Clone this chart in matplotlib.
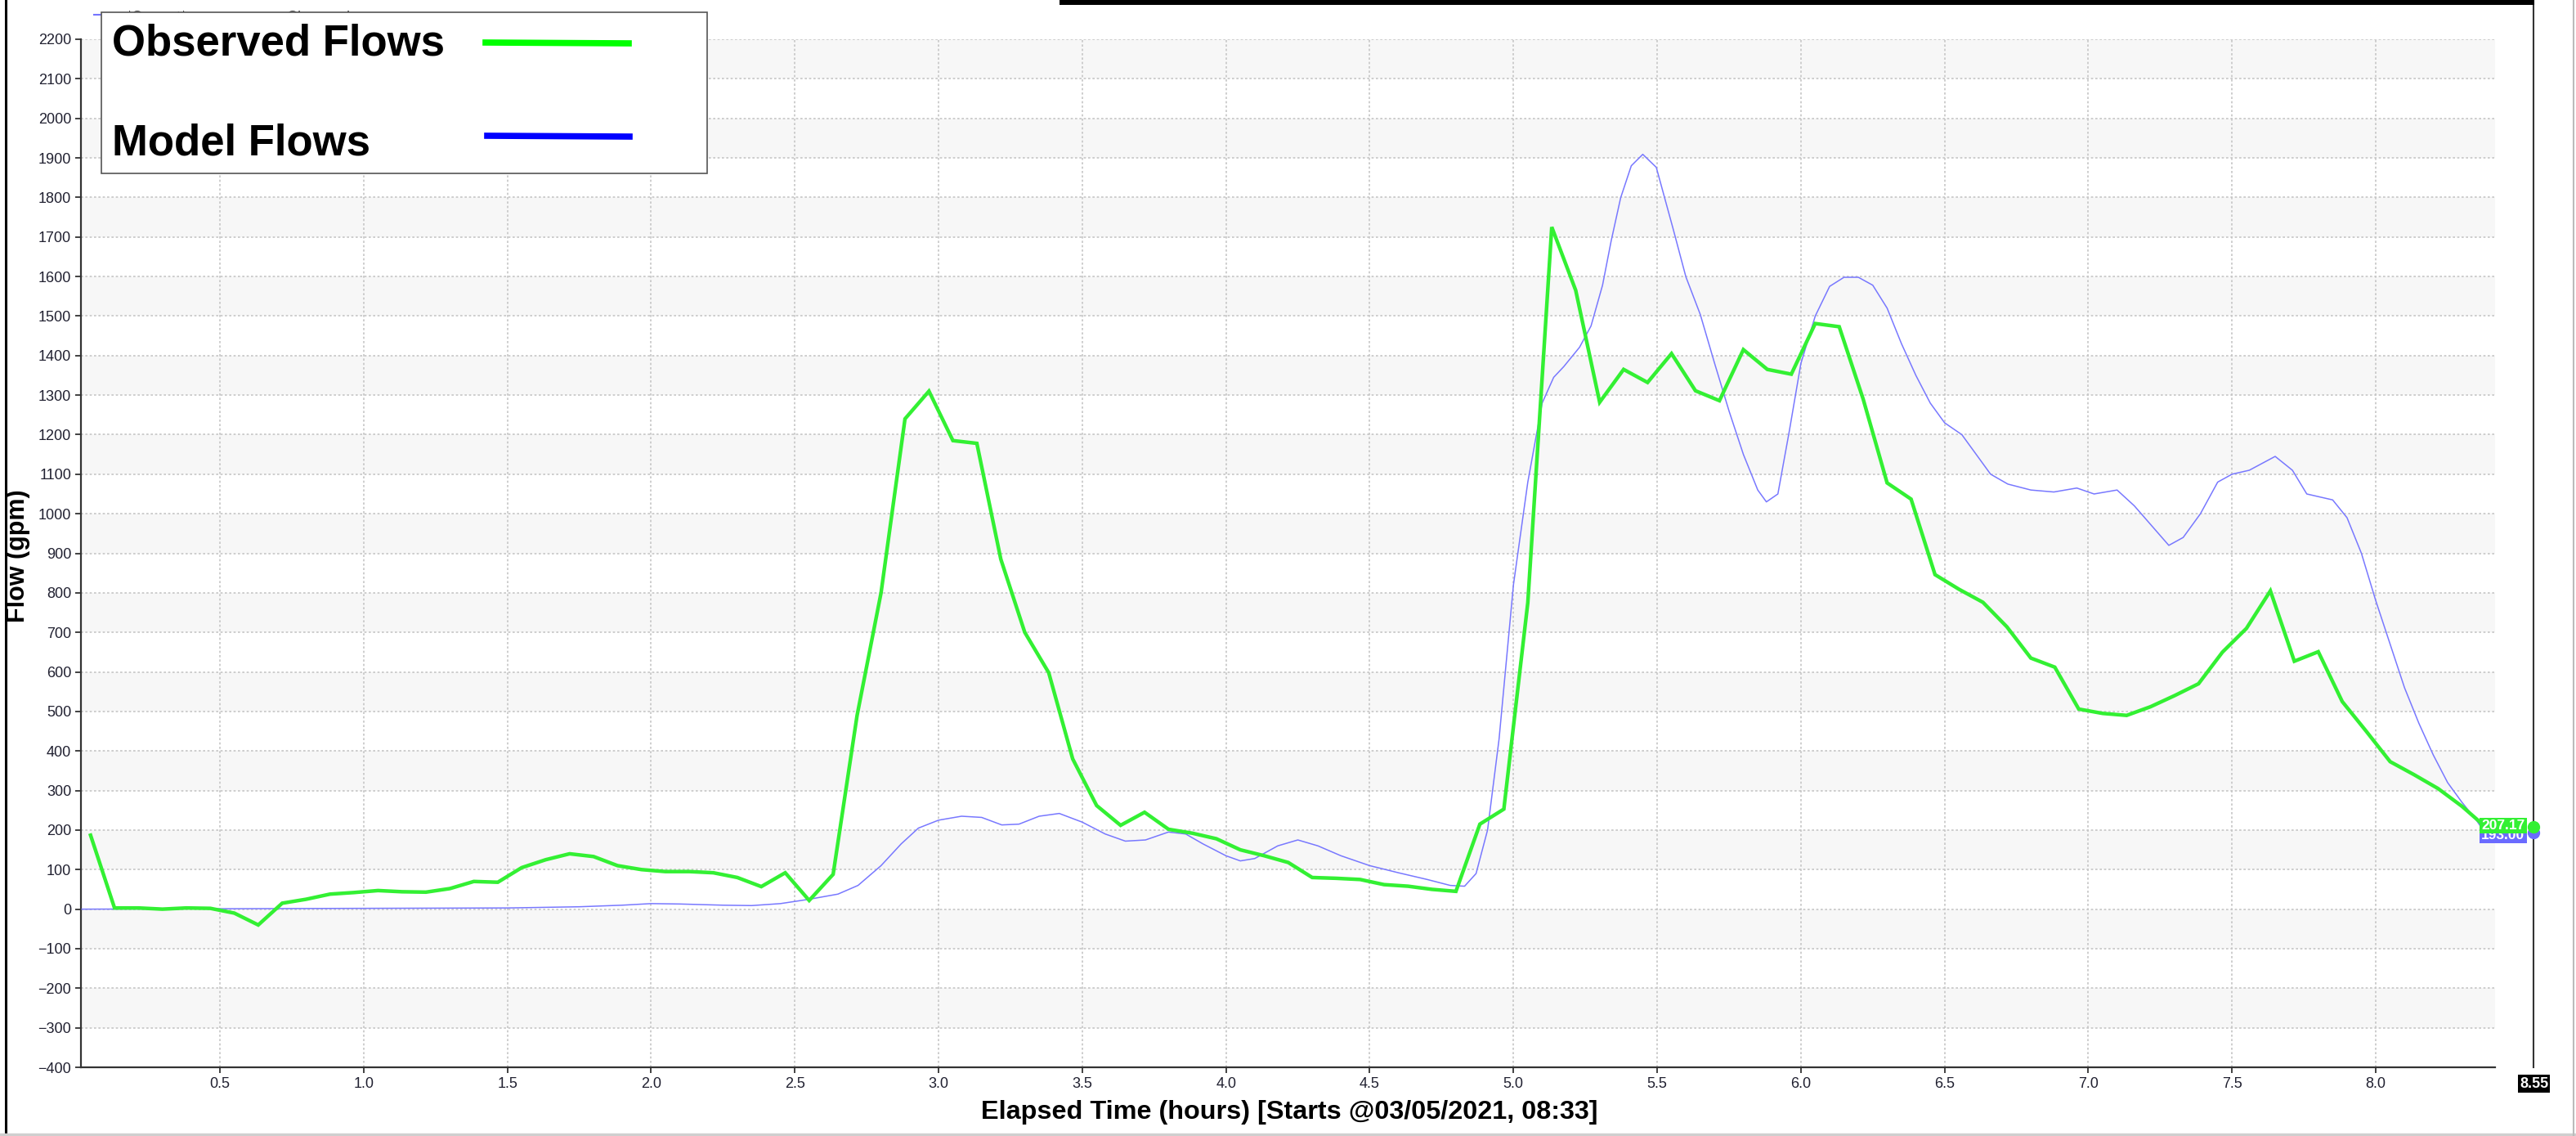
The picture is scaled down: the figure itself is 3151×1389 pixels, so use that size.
import numpy as np
import matplotlib.pyplot as plt
from matplotlib.patches import Rectangle
from matplotlib.lines import Line2D

# observed flows, one reading every 5 minutes
obs_time = 0.05 + np.arange(101) / 12
obs_flow = [187, 3, 3, 0, 3, 2, -10, -40, 15, 25,
            38, 42, 47, 44, 43, 52, 70, 68, 105, 125,
            140, 133, 110, 100, 95, 95, 92, 80, 57, 92,
            22, 88, 490, 800, 1240, 1310, 1185, 1178, 885, 700,
            598, 380, 262, 212, 245, 202, 192, 178, 150, 135,
            118, 80, 78, 75, 62, 58, 50, 45, 215, 253,
            775, 1725, 1565, 1282, 1365, 1332, 1405, 1311, 1286, 1415,
            1365, 1353, 1481, 1473, 1290, 1078, 1037, 846, 809, 776,
            714, 635, 612, 506, 495, 490, 512, 540, 570, 650,
            710, 805, 627, 651, 525, 450, 373, 340, 305, 260,
            207.17]

# model flows
model_time = [0.02, 0.5, 1.0, 1.5, 1.75, 1.9, 2.0, 2.1, 2.25, 2.35,
              2.45, 2.55, 2.65, 2.72, 2.8, 2.87, 2.93, 3.0, 3.08, 3.15,
              3.22, 3.28, 3.35, 3.42, 3.5, 3.58, 3.65, 3.72, 3.8, 3.86,
              3.92, 4.0, 4.05, 4.1, 4.18, 4.25, 4.32, 4.4, 4.5, 4.6,
              4.7, 4.78, 4.83, 4.87, 4.91, 4.95, 5.0, 5.05, 5.1, 5.14,
              5.175, 5.23, 5.27, 5.31, 5.34, 5.373, 5.41, 5.45, 5.497, 5.555,
              5.6, 5.65, 5.7, 5.75, 5.8, 5.85, 5.88, 5.92, 5.96, 6.0,
              6.05, 6.1, 6.15, 6.2, 6.25, 6.3, 6.35, 6.4, 6.45, 6.5,
              6.56, 6.6, 6.66, 6.72, 6.8, 6.88, 6.96, 7.02, 7.1, 7.16,
              7.22, 7.28, 7.33, 7.39, 7.45, 7.5, 7.56, 7.65, 7.71, 7.76,
              7.85, 7.9, 7.95, 8.0, 8.05, 8.1, 8.15, 8.2, 8.25, 8.3,
              8.35, 8.38]
model_flow = [0, 1, 2, 3, 6, 10, 14, 13, 10, 9,
              14, 25, 38, 60, 110, 165, 205, 225, 235, 232,
              213, 215, 235, 242, 220, 190, 172, 175, 195, 190,
              165, 135, 122, 128, 160, 175, 160, 135, 110, 92,
              75, 60, 58, 90, 200, 430, 820, 1080, 1280, 1345,
              1372, 1421, 1475, 1578, 1690, 1799, 1880, 1909, 1876, 1722,
              1599, 1504, 1380, 1260, 1150, 1060, 1030, 1050, 1210, 1380,
              1500, 1575, 1598, 1598, 1578, 1520, 1430, 1350, 1280, 1230,
              1200, 1160, 1100, 1075, 1060, 1055, 1065, 1050, 1060, 1020,
              970, 920, 940, 1000, 1080, 1100, 1110, 1145, 1110, 1050,
              1035, 990, 900, 780, 670, 560, 470, 390, 320, 270,
              225, 193]

cursor_time = 8.55
obs_last = 207.17
model_last = 193.0

y_ticks = np.arange(-400, 2201, 100)
x_ticks = np.arange(0.5, 8.01, 0.5)

plt.rcParams['font.family'] = ['Liberation Sans', 'DejaVu Sans']

W, H = 3151, 1389
fig = plt.figure(figsize=(W / 100, H / 100), dpi=100)
ax = fig.add_axes([99 / W, 1 - 1305 / H, (3052 - 99) / W, (1305 - 48) / H])

# alternating bands
for k in range(-3, 22, 2):
    ax.axhspan(k * 100, (k + 1) * 100, color='#f7f7f7', lw=0, zorder=0)

ax.plot(model_time, model_flow, color='#7878ff', lw=1.1, zorder=3)
ax.plot(obs_time, obs_flow, color='#33f033', lw=3.2, zorder=4,
        solid_joinstyle='miter')

ax.set_xlim(0.0165, 8.415)
ax.set_ylim(-400, 2200)
ax.set_xticks(x_ticks)
ax.set_xticklabels(['%.1f' % v for v in x_ticks])
ax.set_yticks(y_ticks)
ax.grid(True, color='#c6c6c6', lw=1.2, ls=(0, (1.6, 1.6)), zorder=1)
ax.set_axisbelow(True)
for s in ['top', 'right']:
    ax.spines[s].set_visible(False)
for s in ['left', 'bottom']:
    ax.spines[s].set_color('#333333')
    ax.spines[s].set_linewidth(1.6)
ax.tick_params(length=5, width=1.3, color='#333333', labelsize=13,
               labelcolor='#202030', pad=3.5)

# cursor at 8.55 h with end values
ax.plot([cursor_time, cursor_time], [-400, 2300], color='#333333', lw=1.5,
        clip_on=False, zorder=5)
ax.plot(cursor_time, model_last, 'o', color='#6b6bff', ms=10, clip_on=False, zorder=6)
ax.plot(cursor_time, obs_last, 'o', color='#33f033', ms=10, clip_on=False, zorder=7)
ax.annotate('%.2f' % model_last, (cursor_time, model_last), xytext=(-11, -3),
            textcoords='offset pixels', ha='right', va='center', color='white',
            fontsize=12.5, fontweight='bold', annotation_clip=False, zorder=6,
            bbox=dict(boxstyle='square,pad=0.12', fc='#6b6bff', ec='none'))
ax.annotate('%.2f' % obs_last, (cursor_time, obs_last), xytext=(-11, 2),
            textcoords='offset pixels', ha='right', va='center', color='white',
            fontsize=12.5, fontweight='bold', annotation_clip=False, zorder=7,
            bbox=dict(boxstyle='square,pad=0.12', fc='#33f033', ec='none'))
ax.annotate('%.2f' % cursor_time, (cursor_time, -400), xytext=(0, -20),
            textcoords='offset pixels', ha='center', va='center', color='white',
            fontsize=13, fontweight='bold', annotation_clip=False,
            bbox=dict(boxstyle='square,pad=0.12', fc='black', ec='none'))

# axis titles
fig.text(1577 / W, 1 - 1360 / H, 'Elapsed Time (hours) [Starts @03/05/2021, 08:33]',
         ha='center', va='center', fontsize=23.3, fontweight='bold')
fig.text(22 / W, 1 - 680 / H, 'Flow (gpm)', rotation=90, ha='center', va='center',
         fontsize=22, fontweight='bold')

# original series caption hidden behind the legend
fig.text(155 / W, 1 - 26 / H, '*Current*', fontsize=13, color='#444444', zorder=1)
fig.text(350 / W, 1 - 26 / H, 'Observed', fontsize=13, color='#444444', zorder=1)
fig.add_artist(Line2D([115 / W, 124 / W], [1 - 18 / H, 1 - 18 / H],
                      color='#7474ff', lw=1.5, zorder=1))

# legend
fig.add_artist(Rectangle((124 / W, 1 - 212 / H), 741 / W, 197 / H, fc='white',
                         ec='#555555', lw=1.2, zorder=10))
fig.text(137 / W, 1 - 67 / H, 'Observed Flows', fontsize=38, fontweight='bold',
         zorder=11)
fig.text(137 / W, 1 - 190 / H, 'Model Flows', fontsize=38, fontweight='bold',
         zorder=11)
fig.add_artist(Line2D([594 / W, 769 / W], [1 - 52 / H, 1 - 53 / H],
                      color='#00ff00', lw=5.5, zorder=11))
fig.add_artist(Line2D([596 / W, 770 / W], [1 - 166 / H, 1 - 167 / H],
                      color='#0000ff', lw=5.5, zorder=11))

# window frame pieces
fig.add_artist(Rectangle((1296 / W, 1 - 6 / H), (3100 - 1296) / W, 6 / H,
                         fc='black', ec='none'))
fig.add_artist(Line2D([7 / W, 7 / W], [0, 1], color='black', lw=2.2))
fig.add_artist(Line2D([0, 1], [2 / H, 2 / H], color='#cfcfcf', lw=2.5))
fig.add_artist(Line2D([3148 / W, 3148 / W], [0, 1], color='#bbbbbb', lw=1.5))

fig.savefig('out.png', dpi=100)
